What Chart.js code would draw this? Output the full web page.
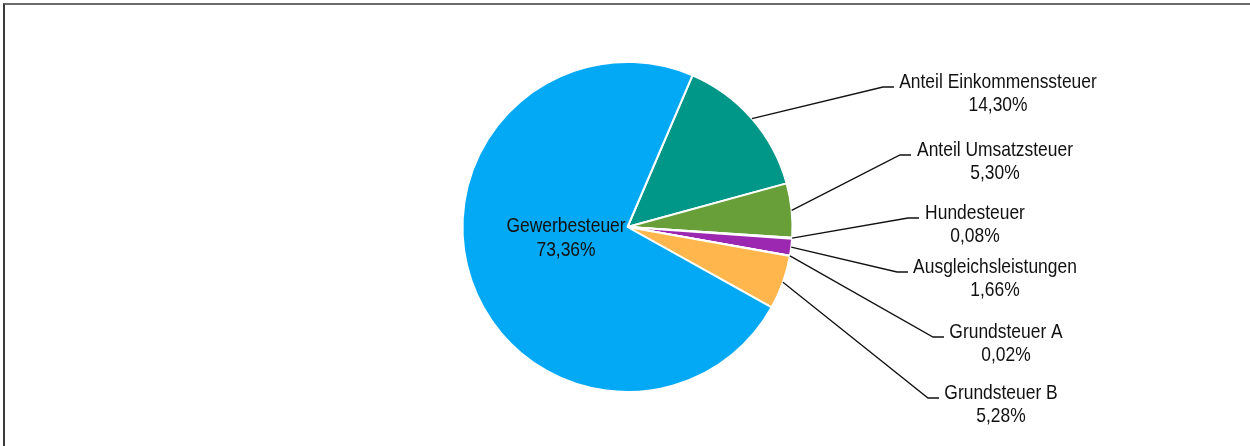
<!DOCTYPE html>
<html lang="de">
<head>
<meta charset="utf-8">
<title>Steuereinnahmen</title>
<script src="https://cdn.jsdelivr.net/npm/chart.js@4.4.1/dist/chart.umd.min.js"></script>
<style>
  html, body { margin: 0; padding: 0; background: #fff; }
  #wrap { position: relative; width: 1250px; height: 446px; }
  #frame { position: absolute; left: 3px; top: 3px; right: 0; bottom: 0;
           border-top: 2px solid #6b6b6b; border-left: 2px solid #3a3a3a; pointer-events: none; }
</style>
</head>
<body>
<div id="wrap">
  <canvas id="pieChart"></canvas>
  <div id="frame"></div>
</div>
<script>
// Daten
const categories = ['Anteil Einkommenssteuer', 'Anteil Umsatzsteuer', 'Hundesteuer',
  'Ausgleichsleistungen', 'Grundsteuer A', 'Grundsteuer B', 'Gewerbesteuer'];
const shares = [14.30, 5.30, 0.08, 1.66, 0.02, 5.28, 73.36];

// Farben
const sliceColors = ['#009688', '#689F38', '#E53935', '#9C27B0', '#3F51B5', '#FFB74D', '#03A9F4'];

// Beschriftungen: Knickpunkt der Linie und Textmitte
const callouts = [
  { elbowX: 883, elbowY: 87,  textX: 998 },
  { elbowX: 900, elbowY: 155, textX: 995 },
  { elbowX: 908, elbowY: 218, textX: 975 },
  { elbowX: 897, elbowY: 272, textX: 995 },
  { elbowX: 933, elbowY: 337, textX: 1006 },
  { elbowX: 928, elbowY: 398, textX: 1001 },
  { inside: true, textX: 566, textY: 238 }
];

// keine Narrow-Schrift installiert -> horizontal stauchen
const FONT = "21px 'Liberation Sans', Arial, sans-serif";
const SQUEEZE = 0.83;
const fmt = v => v.toFixed(2).replace('.', ',') + '%';

function narrowText(ctx, text, x, y) {
  ctx.save();
  ctx.translate(x, y);
  ctx.scale(SQUEEZE, 1);
  ctx.fillText(text, 0, 0);
  ctx.restore();
}

const calloutPlugin = {
  id: 'callouts',
  afterDatasetsDraw(chart) {
    const ctx = chart.ctx;
    const arcs = chart.getDatasetMeta(0).data;
    ctx.save();
    ctx.font = FONT;
    ctx.fillStyle = '#111';
    ctx.strokeStyle = '#111';
    ctx.lineWidth = 1.3;
    ctx.textAlign = 'center';
    ctx.textBaseline = 'middle';
    arcs.forEach((arc, i) => {
      const c = callouts[i];
      if (c.inside) {
        narrowText(ctx, categories[i], c.textX, c.textY - 12);
        narrowText(ctx, fmt(shares[i]), c.textX, c.textY + 12);
        return;
      }
      const mid = (arc.startAngle + arc.endAngle) / 2;
      const sx = arc.x + Math.cos(mid) * arc.outerRadius;
      const sy = arc.y + Math.sin(mid) * arc.outerRadius;
      ctx.beginPath();
      ctx.moveTo(sx, sy);
      ctx.lineTo(c.elbowX, c.elbowY);
      ctx.lineTo(c.elbowX + 11, c.elbowY);
      ctx.stroke();
      narrowText(ctx, categories[i], c.textX, c.elbowY - 5);
      narrowText(ctx, fmt(shares[i]), c.textX, c.elbowY + 18);
    });
    ctx.restore();
  }
};

const ctx = document.getElementById('pieChart').getContext('2d');
new Chart(ctx, {
  type: 'pie',
  data: {
    labels: categories,
    datasets: [{
      data: shares,
      backgroundColor: sliceColors,
      borderColor: '#ffffff',
      borderWidth: 2
    }]
  },
  options: {
    responsive: true,
    maintainAspectRatio: false,
    animation: false,
    rotation: 23.2,
    layout: { padding: { left: 461.5, right: 456.5, top: 61, bottom: 53 } },
    plugins: {
      legend: { display: false },
      tooltip: { enabled: false }
    }
  },
  plugins: [calloutPlugin]
});
</script>
</body>
</html>
